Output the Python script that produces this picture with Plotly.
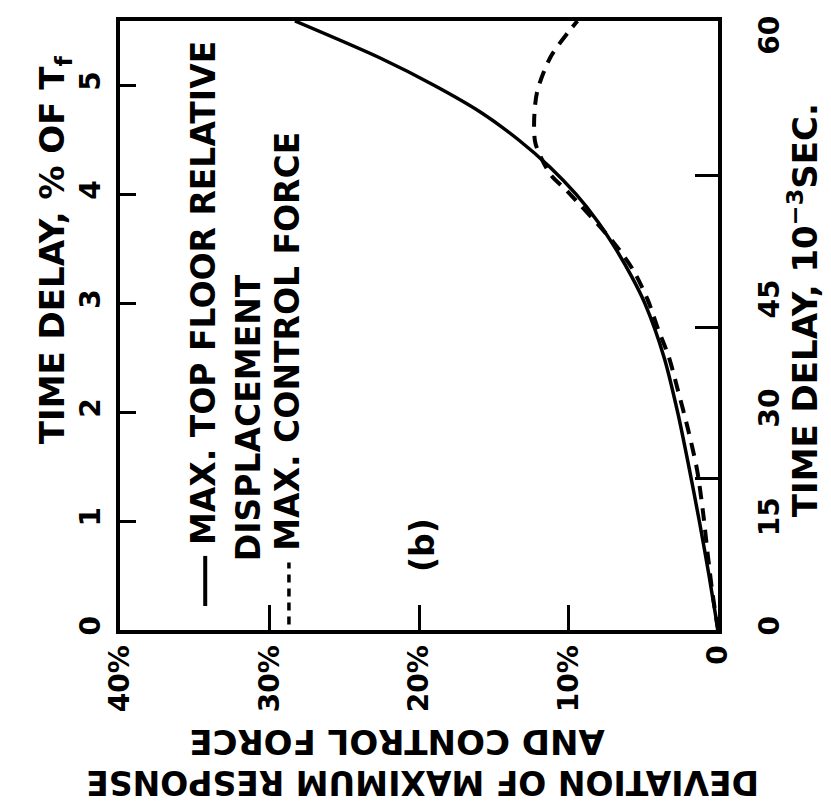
import plotly.graph_objects as go

# Time delay as percent of the fundamental period T_f
disp_delay = [0.0, 0.5, 1.0, 1.5, 2.0, 2.5, 3.0, 3.25, 3.5, 3.75, 4.0, 4.25,
              4.5, 4.75, 5.0, 5.25, 5.59]
# Deviation of max. top floor relative displacement, %
disp_dev = [0.0, 0.6, 1.25, 1.95, 2.7, 3.6, 4.9, 5.8, 6.85, 8.05, 9.5, 11.25,
            13.35, 15.85, 19.0, 22.6, 28.3]

force_delay = [0.0, 0.37, 0.71, 1.08, 1.47, 1.84, 2.21, 2.51, 2.76, 3.03, 3.31, 3.56,
               4.03, 4.18, 4.46, 4.67, 4.94, 5.26, 5.49, 5.59]
# Deviation of max. control force, %
force_dev = [0.0, 0.4, 0.7, 1.0, 1.4, 2.0, 2.7, 3.3, 4.0, 4.7, 5.7, 7.0,
             10.1, 11.2, 12.2, 12.3, 12.1, 11.2, 10.0, 9.4]

dev_ticks = [40, 30, 20, 10, 0]
dev_labels = ["40%", "30%", "20%", "10%", "0"]
pct_ticks = [0, 1, 2, 3, 4, 5]
pct_labels = ["0", "1", "2", "3", "4", "5"]
ms_ticks = [15, 30, 45]
ms_label_rows = [0, 1, 2, 3, 5.42]
ms_labels = ["0", "15", "30", "45", "60"]

FONT = "DejaVu Sans"
INK = "black"
PCT_MAX = 5.59
MS_MAX = 60.3

fig = go.Figure()
fig.add_trace(go.Scatter(x=disp_dev, y=disp_delay, mode="lines",
                         line=dict(color=INK, width=3.5, shape="spline", smoothing=0.8),
                         showlegend=False, hoverinfo="skip"))
fig.add_trace(go.Scatter(x=force_dev, y=force_delay, mode="lines",
                         line=dict(color=INK, width=4, dash="13px,9px", shape="spline", smoothing=0.8),
                         showlegend=False, hoverinfo="skip"))
# invisible traces to activate the right-hand axes
fig.add_trace(go.Scatter(x=[0], y=[0], yaxis="y2", mode="markers",
                         marker=dict(opacity=0), showlegend=False, hoverinfo="skip"))
fig.add_trace(go.Scatter(x=[0], y=[0], yaxis="y3", mode="markers",
                         marker=dict(opacity=0), showlegend=False, hoverinfo="skip"))

tickfont = dict(family=FONT, size=28, color=INK, weight="bold")
legendfont = dict(family=FONT, size=33, color=INK, weight="bold")

fig.update_layout(
    width=831, height=808,
    margin=dict(l=120, r=113, t=21, b=178),
    paper_bgcolor="white", plot_bgcolor="white",
    xaxis=dict(range=[40, 0], tickvals=dev_ticks, ticktext=dev_labels,
               ticks="inside", ticklen=25, tickwidth=2.5, tickcolor=INK,
               tickangle=-90, tickfont=tickfont,
               showline=True, linewidth=4, linecolor=INK, mirror=True,
               showgrid=False, zeroline=False, fixedrange=True),
    yaxis=dict(range=[0, PCT_MAX], tickvals=pct_ticks, ticktext=pct_labels,
               ticks="inside", ticklen=16, tickwidth=2.5, tickcolor=INK,
               tickangle=-90, tickfont=tickfont, ticklabelstandoff=5,
               showline=True, linewidth=4, linecolor=INK, mirror=True,
               showgrid=False, zeroline=False),
    yaxis2=dict(overlaying="y", side="right", range=[0, MS_MAX],
                tickvals=ms_ticks, ticks="inside", ticklen=23, tickwidth=2.5,
                tickcolor=INK, showticklabels=False,
                showline=False, showgrid=False, zeroline=False),
    yaxis3=dict(overlaying="y", side="right", range=[0, PCT_MAX],
                tickvals=ms_label_rows, ticktext=ms_labels, ticks="",
                tickangle=-90, tickfont=tickfont, ticklabelstandoff=32,
                showline=False, showgrid=False, zeroline=False),
)

# legend samples
fig.add_shape(type="line", xref="x", yref="y", x0=34.3, x1=34.3, y0=0.22, y1=0.68,
              line=dict(color=INK, width=4))
fig.add_shape(type="line", xref="x", yref="y", x0=28.7, x1=28.7, y0=0.05, y1=0.62,
              line=dict(color=INK, width=3.5, dash="8px,6px"))

notes = [
    ("MAX. TOP FLOOR RELATIVE", 34.4, 3.09),
    ("DISPLACEMENT", 31.4, 1.95),
    ("MAX. CONTROL FORCE", 28.8, 2.65),
    ("(b)", 19.8, 0.78),
]
for text, xv, yv in notes:
    fig.add_annotation(text=text, x=xv, y=yv, xref="x", yref="y", showarrow=False,
                       xanchor="center", yanchor="middle", textangle=-90, font=legendfont)

titles = [
    ("TIME DELAY, % OF T<sub>f</sub>", -0.109, 0.625, -90, 34),
    ("TIME DELAY, 10<sup>\u22123</sup>SEC.", 1.142, 0.525, -90, 34),
    ("AND CONTROL FORCE", 0.463, -0.184, 180, 34),
    ("DEVIATION OF MAXIMUM RESPONSE", 0.505, -0.25, 180, 33),
]
for text, xp, yp, ang, sz in titles:
    fig.add_annotation(text=text, x=xp, y=yp, xref="paper", yref="paper", showarrow=False,
                       xanchor="center", yanchor="middle", textangle=ang,
                       font=dict(family=FONT, size=sz, color=INK, weight="bold"))

fig.write_html("out.html")
